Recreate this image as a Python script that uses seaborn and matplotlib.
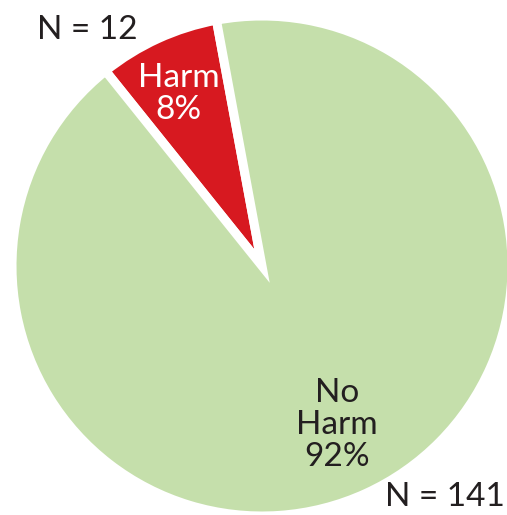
import matplotlib
matplotlib.use("Agg")
import matplotlib.pyplot as plt
import seaborn as sns

sns.set_theme(style="white")
plt.rcParams['font.family'] = ['Lato', 'DejaVu Sans']

categories = ["Harm", "No Harm"]
counts = [12, 141]
colors = ["#d71920", "#c5dfab"]
pct_labels = ["Harm\n8%", "No\nHarm\n92%"]
n_labels = ["N = 12", "N = 141"]

fig = plt.figure(figsize=(5.07, 5.15), dpi=100)
W, H = 507, 515
cx, cy, r = 262, 266, 250
ax = fig.add_axes([(cx - r) / W, (H - cy - r) / H, 2 * r / W, 2 * r / H])

ax.pie(counts, colors=colors, startangle=100.5, counterclock=True, radius=1,
       wedgeprops=dict(linewidth=6.5, edgecolor="white", joinstyle="miter"))
ax.set_xlim(-1, 1)
ax.set_ylim(-1, 1)
ax.set_aspect("equal")
ax.axis("off")

txt = "#231f20"
fs = 24
ax.text(-0.334, 0.688, pct_labels[0], color="white", fontsize=fs,
        ha="center", va="center", linespacing=1.08)
ax.text(0.30, -0.636, pct_labels[1], color=txt, fontsize=fs,
        ha="center", va="center", linespacing=1.08)
ax.text(-0.70, 0.944, n_labels[0], color=txt, fontsize=fs, ha="center", va="center")
fig.text(0.996, 1 - 497 / H, n_labels[1], color=txt, fontsize=fs, ha="right", va="center")

fig.savefig("out.png", dpi=100)
